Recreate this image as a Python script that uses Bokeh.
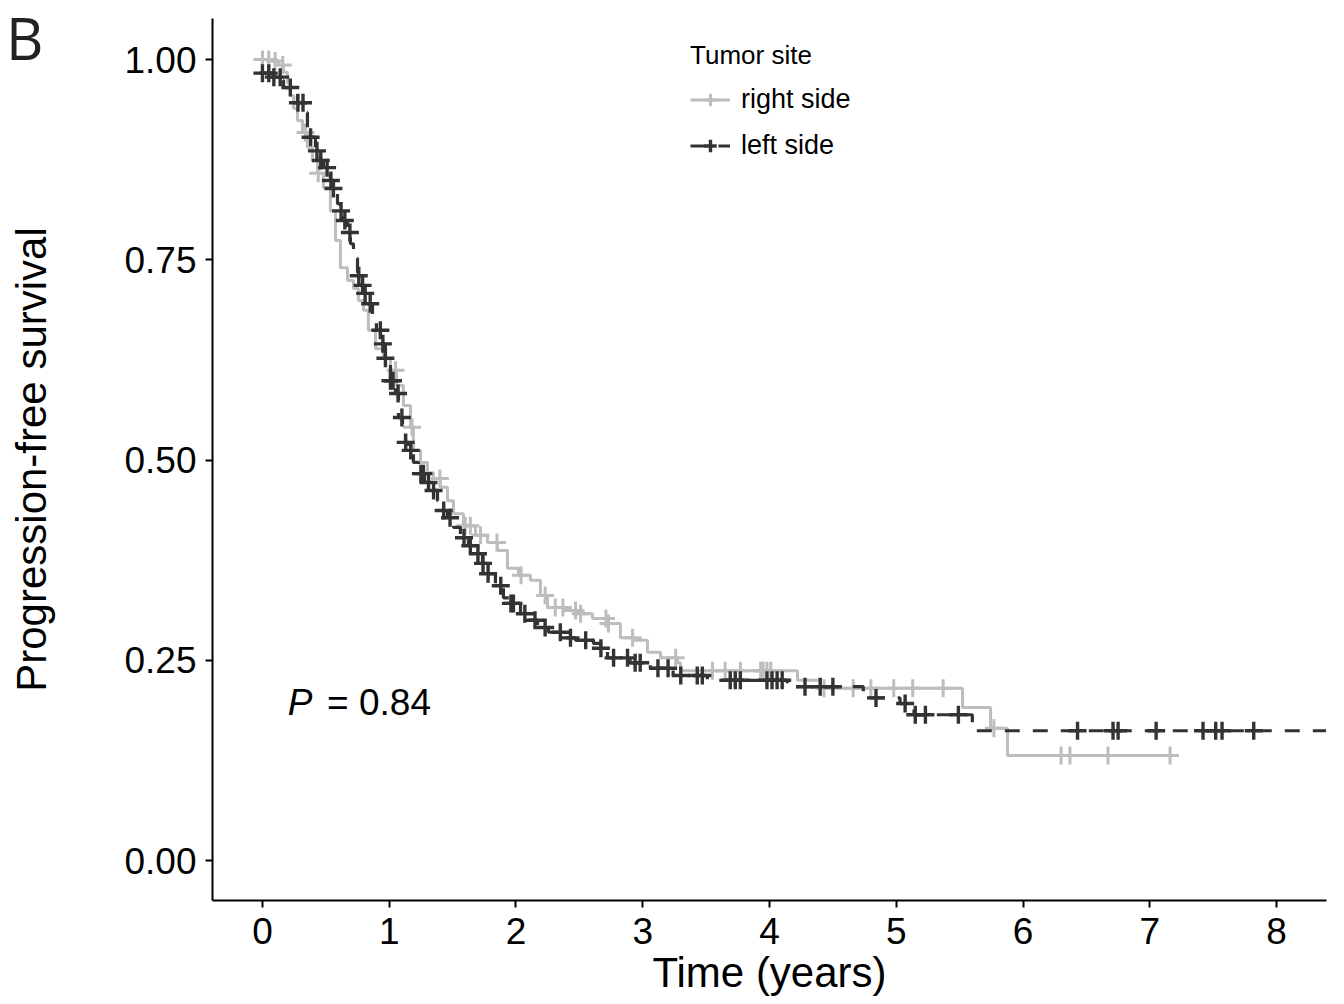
import numpy as np
from bokeh.plotting import figure
from bokeh.models import Range1d, FixedTicker, Legend, LegendItem, Div, PrintfTickFormatter
from bokeh.layouts import column
from bokeh.core.properties import value
from bokeh.embed import file_html
from bokeh.resources import INLINE

# ---------------- data ----------------
x_ticks = [0, 1, 2, 3, 4, 5, 6, 7, 8]
y_ticks = [0.0, 0.25, 0.5, 0.75, 1.0]

# right side (grey) KM step points
right_time = [0.000, 0.063, 0.126, 0.166, 0.197, 0.221, 0.245, 0.276, 0.316, 0.355,
              0.394, 0.434, 0.481, 0.536, 0.576, 0.615, 0.671, 0.718, 0.757, 0.797,
              0.836, 0.892, 0.955, 1.010, 1.057, 1.112, 1.168, 1.191, 1.247, 1.302,
              1.349, 1.404, 1.460, 1.507, 1.586, 1.680, 1.775, 1.854, 1.933, 2.020,
              2.114, 2.193, 2.249, 2.375, 2.485, 2.604, 2.722, 2.824, 2.927, 3.037,
              3.140, 3.274, 3.298, 4.221, 4.402, 5.523, 5.744, 5.878, 7.164]
right_surv = [1.000, 0.998, 0.993, 0.984, 0.971, 0.955, 0.939, 0.924, 0.909, 0.890,
              0.874, 0.858, 0.840, 0.811, 0.774, 0.740, 0.724, 0.714, 0.699, 0.687,
              0.662, 0.639, 0.627, 0.612, 0.593, 0.568, 0.541, 0.512, 0.497, 0.484,
              0.477, 0.466, 0.449, 0.433, 0.418, 0.406, 0.397, 0.387, 0.365, 0.356,
              0.350, 0.331, 0.316, 0.312, 0.308, 0.302, 0.296, 0.278, 0.275, 0.260,
              0.253, 0.247, 0.237, 0.225, 0.215, 0.191, 0.165, 0.131, 0.131]
right_censor = [0.00, 0.05, 0.10, 0.16, 0.34, 0.44, 1.05, 1.18, 1.40, 1.60, 1.64, 1.72,
                1.85, 2.04, 2.23, 2.31, 2.37, 2.47, 2.51, 2.71, 2.73, 2.92, 3.26, 3.55,
                3.65, 3.77, 3.93, 3.95, 3.98, 4.01, 4.43, 4.66, 4.80, 4.98, 5.13, 5.37,
                5.77, 6.30, 6.37, 6.67, 7.16]

# left side (dark) KM step points
left_time = [0.000, 0.087, 0.142, 0.166, 0.221, 0.276, 0.323, 0.355, 0.379, 0.418,
             0.458, 0.481, 0.513, 0.536, 0.560, 0.592, 0.615, 0.639, 0.671, 0.694,
             0.718, 0.750, 0.773, 0.797, 0.828, 0.868, 0.899, 0.931, 0.970, 1.010,
             1.049, 1.073, 1.105, 1.128, 1.152, 1.191, 1.231, 1.278, 1.325, 1.381,
             1.428, 1.460, 1.507, 1.562, 1.625, 1.696, 1.736, 1.775, 1.838, 1.901,
             1.957, 2.036, 2.099, 2.170, 2.256, 2.351, 2.469, 2.611, 2.667, 2.722,
             2.900, 3.060, 3.240, 3.510, 4.140, 4.740, 5.030, 5.140, 5.600, 8.390]
left_surv = [0.983, 0.978, 0.974, 0.965, 0.955, 0.946, 0.934, 0.915, 0.903, 0.886,
             0.874, 0.865, 0.859, 0.849, 0.839, 0.820, 0.811, 0.799, 0.784, 0.770,
             0.752, 0.730, 0.718, 0.708, 0.695, 0.680, 0.662, 0.645, 0.627, 0.599,
             0.583, 0.553, 0.533, 0.522, 0.512, 0.497, 0.483, 0.472, 0.462, 0.449,
             0.437, 0.428, 0.416, 0.403, 0.393, 0.383, 0.371, 0.358, 0.343, 0.328,
             0.321, 0.308, 0.300, 0.291, 0.285, 0.278, 0.275, 0.271, 0.265, 0.253,
             0.247, 0.240, 0.231, 0.225, 0.217, 0.203, 0.196, 0.182, 0.162, 0.162]
left_censor = [0.00, 0.05, 0.09, 0.14, 0.22, 0.28, 0.32, 0.38, 0.43, 0.46, 0.51, 0.54,
               0.56, 0.62, 0.65, 0.69, 0.76, 0.79, 0.81, 0.85, 0.93, 0.95, 0.97, 1.01,
               1.03, 1.07, 1.10, 1.13, 1.17, 1.25, 1.27, 1.31, 1.35, 1.43, 1.48, 1.59,
               1.64, 1.70, 1.74, 1.78, 1.88, 1.96, 1.98, 2.07, 2.15, 2.23, 2.35, 2.43,
               2.55, 2.67, 2.77, 2.88, 2.94, 2.98, 3.12, 3.20, 3.30, 3.43, 3.47, 3.69,
               3.73, 3.77, 3.98, 4.02, 4.06, 4.10, 4.28, 4.40, 4.50, 4.84, 5.07, 5.15,
               5.23, 5.49, 6.43, 6.71, 6.75, 7.05, 7.42, 7.52, 7.57, 7.82]

series_labels = ["right side", "left side"]
legend_title = "Tumor site"
p_value_text = "0.84"
panel_letter = "B"

GREY = "#bdbdbd"
DARK = "#333333"
FONT = "Liberation Sans"


def on_curve(times, survs, ct):
    idx = np.searchsorted(np.asarray(times), np.asarray(ct), side="right") - 1
    return list(np.asarray(survs)[idx])


fig = figure(frame_width=1114, frame_height=882,
             x_range=Range1d(-0.394, 8.394), y_range=Range1d(-0.0499, 1.0512),
             output_backend="svg", toolbar_location=None,
             min_border_left=212, min_border_top=18, min_border_right=16, min_border_bottom=102)
fig.outline_line_color = None
fig.xgrid.visible = False
fig.ygrid.visible = False
fig.background_fill_color = "white"
fig.border_fill_color = "white"

# curves
r_line = fig.step(right_time, right_surv, mode="after", line_color=GREY, line_width=3)
r_cens = fig.scatter(right_censor, on_curve(right_time, right_surv, right_censor),
                     marker="cross", size=18, line_color=GREY, line_width=3)
l_line = fig.step(left_time, left_surv, mode="after", line_color=DARK, line_width=3.2,
                  line_dash="15 13")
l_cens = fig.scatter(left_censor, on_curve(left_time, left_surv, left_censor),
                     marker="cross", size=18, line_color=DARK, line_width=3.4)

# axes
for ax in (fig.xaxis[0], fig.yaxis[0]):
    ax.axis_line_color = "black"
    ax.axis_line_width = 2
    ax.major_tick_line_color = "black"
    ax.major_tick_line_width = 2
    ax.major_tick_out = 7
    ax.major_tick_in = 0
    ax.minor_tick_line_color = None
    ax.major_label_text_font = FONT
    ax.major_label_text_font_size = "37px"
    ax.major_label_text_color = "black"
    ax.axis_label_text_font = FONT
    ax.axis_label_text_font_size = "42px"
    ax.axis_label_text_font_style = "normal"
    ax.axis_label_text_color = "black"

fig.xaxis.ticker = FixedTicker(ticks=x_ticks)
fig.yaxis.ticker = FixedTicker(ticks=y_ticks)
fig.yaxis.formatter = PrintfTickFormatter(format="%.2f")
fig.xaxis.axis_label = "Time (years)"
fig.yaxis.axis_label = "Progression-free survival"
fig.xaxis.major_label_standoff = 10
fig.xaxis.axis_label_standoff = 2
fig.yaxis.major_label_standoff = 9
fig.yaxis.axis_label_standoff = 66

# P value annotation
fig.text(x=[0.2], y=[0.197], text=["P"], text_font=value(FONT), text_font_size="37px",
         text_font_style="italic", text_baseline="middle", text_align="left", text_color="black")
fig.text(x=[0.51], y=[0.197], text=["= " + p_value_text], text_font=value(FONT),
         text_font_size="37px", text_baseline="middle", text_align="left", text_color="black")

# legend
legend = Legend(items=[LegendItem(label=series_labels[0], renderers=[r_line, r_cens]),
                       LegendItem(label=series_labels[1], renderers=[l_line, l_cens])],
                title=legend_title, location=(478, 739))
legend.title_text_font = FONT
legend.title_text_font_size = "26px"
legend.title_text_font_style = "normal"
legend.title_text_color = "black"
legend.title_standoff = 13
legend.label_text_font = FONT
legend.label_text_font_size = "27px"
legend.label_text_color = "black"
legend.label_standoff = 11
legend.glyph_width = 40
legend.glyph_height = 31
legend.label_height = 31
legend.spacing = 15
legend.padding = 0
legend.margin = 0
legend.background_fill_alpha = 0
legend.border_line_alpha = 0
fig.add_layout(legend, "center")

# panel letter (overlaid on the top-left corner of the figure)
letter = Div(text=panel_letter, width=40, height=60,
             styles={"position": "absolute", "left": "1px", "top": "4px",
                     "font-family": "Open Sans", "font-size": "58px", "line-height": "1",
                     "color": "#222222", "z-index": "10"})

p = column(fig, letter, spacing=0)

open("out.html", "w").write(file_html(p, INLINE))
